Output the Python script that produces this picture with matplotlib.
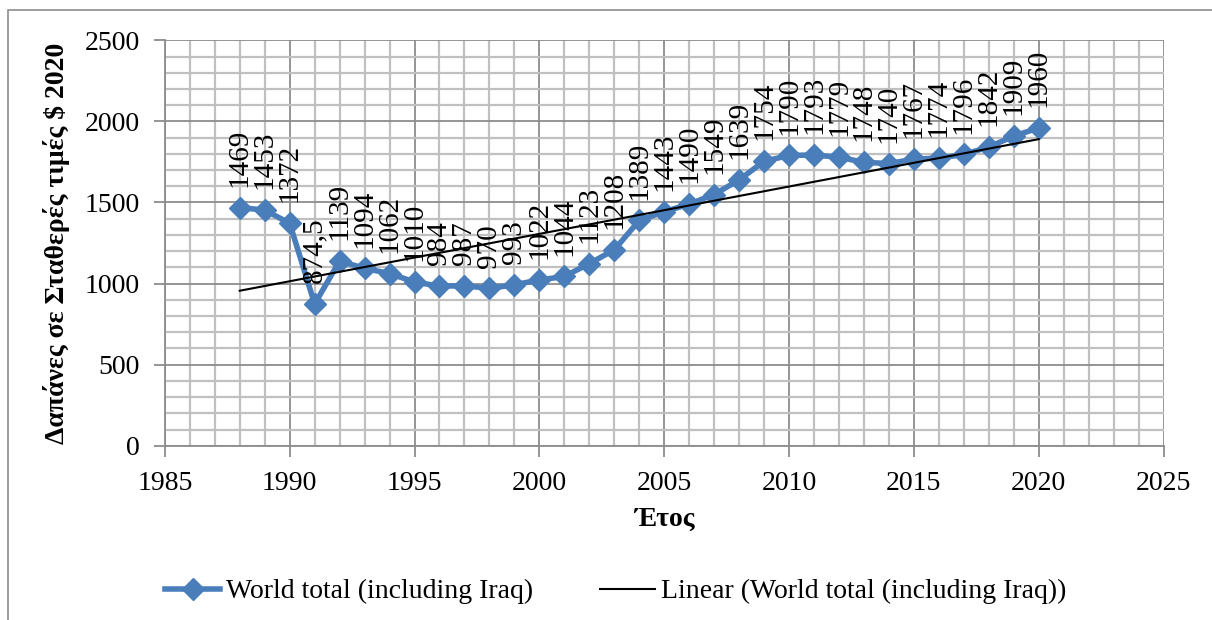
import matplotlib.pyplot as plt
import numpy as np
from matplotlib.patches import Rectangle
from matplotlib.ticker import MultipleLocator

plt.rcParams["font.family"] = ["Liberation Serif", "DejaVu Serif"]

years = list(range(1988, 2021))
spending = [1469, 1453, 1372, 874.5, 1139, 1094, 1062, 1010, 984, 987, 970,
            993, 1022, 1044, 1123, 1208, 1389, 1443, 1490, 1549, 1639, 1754,
            1790, 1793, 1779, 1748, 1740, 1767, 1774, 1796, 1842, 1909, 1960]
series_name = "World total (including Iraq)"
x_label = "Έτος"
y_label = "Δαπάνες σε Σταθερές τιμές $ 2020"

blue = "#4a7ebb"
fs = 20

fig = plt.figure(figsize=(12.12, 6.2), dpi=100)
fig.patches.append(Rectangle((8 / 1212, -0.1), 1.1, 1.1 - 10 / 620,
                             transform=fig.transFigure, fill=False,
                             edgecolor="#8c8c8c", linewidth=1.2))

ax = fig.add_axes([0.136, 0.281, 0.824, 0.654])
ax.set_xlim(1985, 2025)
ax.set_ylim(0, 2500)
ax.xaxis.set_major_locator(MultipleLocator(5))
ax.xaxis.set_minor_locator(MultipleLocator(1))
ax.yaxis.set_major_locator(MultipleLocator(500))
ax.yaxis.set_minor_locator(MultipleLocator(100))
ax.grid(which="minor", color="#c0c0c0", linewidth=1.6)
ax.grid(which="major", color="#8c8c8c", linewidth=1.3)
ax.set_axisbelow(True)
for side in ["top", "right"]:
    ax.spines[side].set_visible(False)
for side in ["left", "bottom"]:
    ax.spines[side].set_color("#8c8c8c")
    ax.spines[side].set_linewidth(1.3)
ax.tick_params(which="major", length=8, width=1.3, color="#8c8c8c",
               labelsize=fs)
ax.tick_params(axis="x", which="major", pad=10)
ax.tick_params(axis="y", which="major", pad=10)
ax.tick_params(which="minor", length=0)

ax.plot(years, spending, color=blue, linewidth=4, marker="D", markersize=11,
        label=series_name, zorder=3)

# linear trend line fitted to the series
slope, intercept = np.polyfit(years, spending, 1)
trend = [slope * y + intercept for y in years]
ax.plot(years, trend, color="black", linewidth=1.5,
        label="Linear (" + series_name + ")", zorder=4)

for y, v in zip(years, spending):
    txt = f"{v:g}".replace(".", ",")
    ax.annotate(txt, (y, v), xytext=(0, 15), textcoords="offset points",
                rotation=90, ha="center", va="bottom", fontsize=fs + 1,
                zorder=5)

ax.set_xlabel(x_label, fontsize=fs, fontweight="bold", labelpad=8)
ax.set_ylabel(y_label, fontsize=fs, fontweight="bold", labelpad=8)
ax.yaxis.set_label_coords(-0.095, 0.5)

ax.legend(loc="center left", bbox_to_anchor=(-0.025, -0.36), ncol=2,
          frameon=False, fontsize=fs, handlelength=2.0, handletextpad=0.2,
          columnspacing=2.4)

fig.savefig("out.png", dpi=100)
